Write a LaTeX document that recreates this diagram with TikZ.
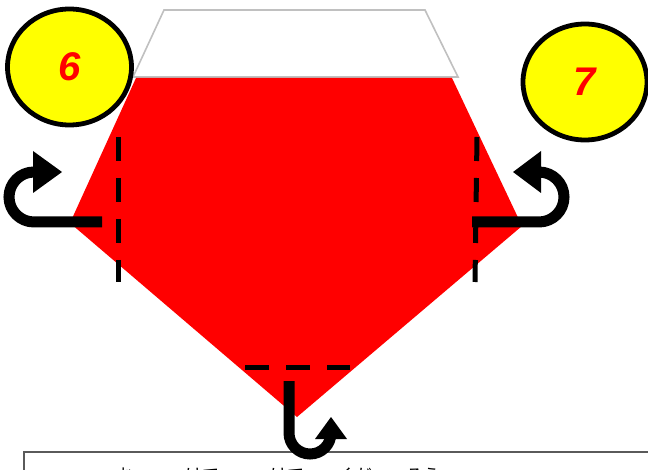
\documentclass[tikz,border=0pt]{standalone}
\usepackage{fontspec}
\newfontfamily\numfont{Liberation Sans}
\newfontfamily\jpfont{Noto Sans CJK JP}
\usetikzlibrary{shapes.geometric}
\definecolor{fillred}{RGB}{255,0,0}
\definecolor{fillyel}{RGB}{255,255,0}
\definecolor{trapgray}{RGB}{192,192,192}
\definecolor{boxgray}{RGB}{90,90,90}
\tikzset{
  badge/.style={ellipse, draw=black, line width=4.8pt, fill=fillyel, inner sep=0pt,
    minimum width=124pt, minimum height=116pt, text=fillred,
    font=\numfont\bfseries\itshape\fontsize{40}{40}\selectfont},
  foldline/.style={draw=black, line width=5pt, dash pattern=on 24pt off 17pt},
  turnline/.style={draw=black, line width=11pt, line cap=butt},
  turnhead/.style={fill=black, draw=none}
}
\begin{document}
\begin{tikzpicture}[x=1pt,y=1pt]
\useasboundingbox (0,0) rectangle (648,469);
\fill[white] (0,0) rectangle (648,469);
% top flap
\draw[trapgray, line width=1.6pt, fill=white] (164,459) -- (425,459) -- (458,392) -- (133,392) -- cycle;
% red body
\fill[fillred] (136,391) -- (452,391) -- (522,243) -- (297,52) -- (70,246) -- cycle;
% badges
\node[badge] (c6) at (69.5,402) {6};
\node[badge] (c7) at (585,387) {7};
% fold lines
\coordinate (l1) at (118,332); \coordinate (l2) at (118,187);
\coordinate (r1) at (477,332); \coordinate (r2) at (475,187);
\coordinate (b1) at (245,102); \coordinate (b2) at (350,102);
\draw[foldline] (l1) -- (l2);
\draw[foldline] (r1) -- (r2);
\draw[foldline] (b1) -- (b2);
% bottom text box
\begin{scope}
\clip (0,0) rectangle (648,469);
\draw[boxgray, line width=1.3pt] (24,-20) -- (24,17) -- (670,17);
\node[anchor=base west, inner sep=0pt, font=\jpfont\fontsize{17}{17}\selectfont] (txt) at (117,-12)
  {お　　　けて　　　けて　　くだ　　ろう};
\end{scope}
% turn arrows
\coordinate (la) at (102,247);
\draw[turnline] (la) -- (34,247) arc[start angle=270, end angle=90, radius=25];
\fill[turnhead] (33,318) -- (33,276) -- (62,297) -- cycle;
\coordinate (ra) at (472,247);
\draw[turnline] (ra) -- (539,247) arc[start angle=270, end angle=450, radius=25];
\fill[turnhead] (541,318) -- (541,276) -- (513,297) -- cycle;
\coordinate (ba) at (289,88);
\draw[turnline] (ba) -- (289,36) arc[start angle=180, end angle=360, radius=21];
\fill[turnhead] (315,30) -- (347,30) -- (331,52) -- cycle;
\end{tikzpicture}
\end{document}
